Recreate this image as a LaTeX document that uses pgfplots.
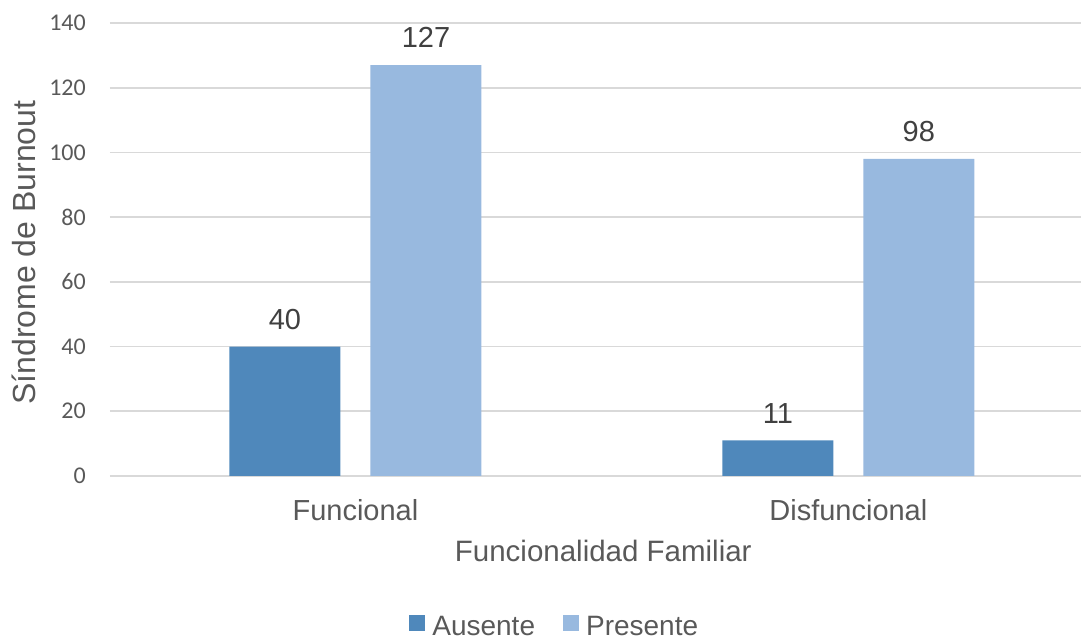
\documentclass[border=0pt]{standalone}
\usepackage{fontspec}
\setmainfont{Liberation Sans}
\newfontfamily\carlito{Carlito}
\usepackage{pgfplots}
\pgfplotsset{compat=1.18}
\definecolor{aus}{HTML}{4F88BB}
\definecolor{pre}{HTML}{98B9DF}
\definecolor{gridc}{HTML}{D9D9D9}
\definecolor{tickc}{HTML}{595959}
\definecolor{labc}{HTML}{404040}
\begin{document}
\begin{tikzpicture}
\useasboundingbox (-110pt,-163pt) rectangle (971pt,476pt);
\begin{axis}[
  at={(0pt,0pt)}, anchor=south west, scale only axis,
  width=971pt, height=453pt,
  xmin=-0.498, xmax=1.472, ymin=0, ymax=140,
  axis line style={draw=none},
  ybar, bar width=111pt,
  ytick={0,20,...,140},
  ymajorgrids, grid style={gridc, line width=1.8pt},
  xtick={0,1}, xticklabels={Funcional,Disfuncional},
  major tick length=0pt,
  yticklabel style={font=\carlito\fontsize{24}{24}\selectfont, text=tickc, anchor=east, inner sep=0pt, xshift=-24pt, /pgf/number format/assume math mode=true},
  xticklabel style={font=\fontsize{29}{29}\selectfont, text=tickc, anchor=north, inner sep=0pt, yshift=-23pt},
  xlabel={Funcionalidad Familiar},
  xlabel style={at={(axis description cs:0.508,0)}, anchor=north, inner sep=0pt, yshift=-64pt, font=\fontsize{29.5}{29.5}\selectfont, text=tickc},
  ylabel={Síndrome de Burnout},
  ylabel style={at={(axis description cs:-0.0762,0.493)}, anchor=south, inner sep=0pt, font=\fontsize{32}{32}\selectfont, text=tickc},
  nodes near coords,
  every node near coord/.append style={font=\fontsize{29}{29}\selectfont, text=labc, anchor=south, inner sep=0pt, yshift=17pt, /pgf/number format/assume math mode=true},
  legend columns=2,
  legend style={at={(axis description cs:0.457,-0.331)}, anchor=center, draw=none, fill=none, font=\fontsize{28}{28}\selectfont, text=tickc, inner sep=0pt, nodes={inner sep=0pt}, /tikz/every even column/.append style={column sep=28pt}},
  legend image code/.code={\fill[#1,draw=none] (0pt,-5pt) rectangle (16pt,11pt);},
  legend cell align=left,
  clip=false,
]
\addplot[fill=aus, draw=none, bar shift=-70.5pt] coordinates {(0,40) (1,11)};
\addplot[fill=pre, draw=none, bar shift=70.5pt] coordinates {(0,127) (1,98)};
\legend{\hspace{7pt}Ausente,\hspace{7pt}Presente}
\end{axis}
\end{tikzpicture}
\end{document}
